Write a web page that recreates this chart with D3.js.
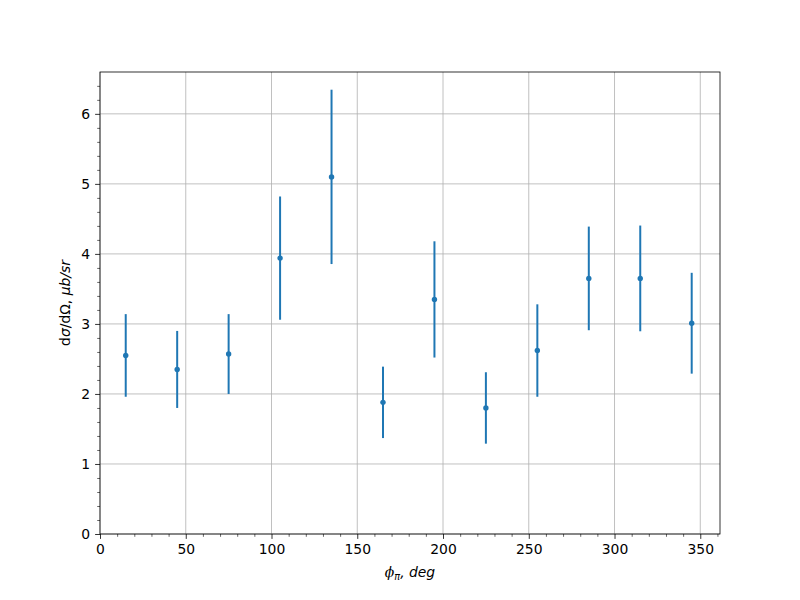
<!DOCTYPE html>
<html><head><meta charset="utf-8">
<script src="https://cdn.jsdelivr.net/npm/d3@7"></script>
<style>body{margin:0;background:#fff;} text{font-family:"DejaVu Sans",sans-serif;}</style>
</head><body>
<svg id="chart" width="800" height="600"></svg>
<script>
const phi = [15, 45, 75, 105, 135, 165, 195, 225, 255, 285, 315, 345];
const xsec = [2.55, 2.35, 2.57, 3.94, 5.10, 1.88, 3.35, 1.80, 2.62, 3.65, 3.65, 3.01];
const err = [0.59, 0.55, 0.57, 0.88, 1.245, 0.51, 0.83, 0.51, 0.66, 0.74, 0.755, 0.72];
const xTicks = [0, 50, 100, 150, 200, 250, 300, 350];
const yTicks = [0, 1, 2, 3, 4, 5, 6];

const svg = d3.select("#chart");
const m = {left: 100, right: 80, top: 72, bottom: 66};
const W = 800 - m.left - m.right, H = 600 - m.top - m.bottom;
const color = "#1f77b4";

// matplotlib-like autoscale with 5% margins, lower limits pinned at 0
const xmin = d3.min(phi), xmax = d3.max(phi);
const xHi = xmax + 0.05 * (xmax - xmin);
const lows = xsec.map((v, i) => v - err[i]), highs = xsec.map((v, i) => v + err[i]);
const ylo = d3.min(lows), yhi = d3.max(highs);
const yHi = yhi + 0.05 * (yhi - ylo);

const x = d3.scaleLinear().domain([0, xHi]).range([0, W]);
const y = d3.scaleLinear().domain([0, yHi]).range([H, 0]);

const g = svg.append("g").attr("transform", `translate(${m.left},${m.top})`);

// grid
g.append("g").selectAll("line").data(xTicks).join("line")
  .attr("x1", d => x(d)).attr("x2", d => x(d)).attr("y1", 0).attr("y2", H)
  .attr("stroke", "#b0b0b0").attr("stroke-width", 0.8);
g.append("g").selectAll("line").data(yTicks).join("line")
  .attr("y1", d => y(d)).attr("y2", d => y(d)).attr("x1", 0).attr("x2", W)
  .attr("stroke", "#b0b0b0").attr("stroke-width", 0.8);

// minor ticks
const xMinor = d3.range(0, xHi, 10).filter(v => v % 50 !== 0);
const yMinor = d3.range(0, yHi, 0.2).filter(v => Math.abs(v - Math.round(v)) > 1e-6);
const xAxisMinor = d3.axisBottom(x).tickValues(xMinor).tickSize(2.8).tickFormat("");
const yAxisMinor = d3.axisLeft(y).tickValues(yMinor).tickSize(2.8).tickFormat("");
g.append("g").attr("transform", `translate(0,${H})`).call(xAxisMinor)
  .call(a => a.select(".domain").remove())
  .selectAll("line").attr("stroke", "#000").attr("stroke-width", 0.6);
g.append("g").call(yAxisMinor)
  .call(a => a.select(".domain").remove())
  .selectAll("line").attr("stroke", "#000").attr("stroke-width", 0.6);

// major axes
const xAxis = d3.axisBottom(x).tickValues(xTicks).tickSize(4.9).tickPadding(4.9).tickFormat(d3.format("d"));
const yAxis = d3.axisLeft(y).tickValues(yTicks).tickSize(4.9).tickPadding(4.9).tickFormat(d3.format("d"));
const gx = g.append("g").attr("transform", `translate(0,${H})`).call(xAxis);
const gy = g.append("g").call(yAxis);
[gx, gy].forEach(a => {
  a.select(".domain").remove();
  a.selectAll("line").attr("stroke", "#000").attr("stroke-width", 0.8);
  a.selectAll("text").attr("font-size", "13.9px").attr("fill", "#000")
    .attr("font-family", "DejaVu Sans");
});

// frame
g.append("rect").attr("x", 0).attr("y", 0).attr("width", W).attr("height", H)
  .attr("fill", "none").attr("stroke", "#000").attr("stroke-width", 0.8);

// error bars
g.append("g").selectAll("line").data(phi).join("line")
  .attr("x1", d => x(d)).attr("x2", d => x(d))
  .attr("y1", (d, i) => y(xsec[i] - err[i])).attr("y2", (d, i) => y(xsec[i] + err[i]))
  .attr("stroke", color).attr("stroke-width", 2);
// points
g.append("g").selectAll("circle").data(phi).join("circle")
  .attr("cx", d => x(d)).attr("cy", (d, i) => y(xsec[i]))
  .attr("r", 2.7).attr("fill", color);

// axis labels
const xl = svg.append("text").attr("x", m.left + W / 2).attr("y", 577)
  .attr("text-anchor", "middle").attr("font-size", "13.9px").attr("font-family", "DejaVu Sans");
xl.append("tspan").attr("font-style", "italic").attr("font-family", "DejaVu Serif").text("ϕ");
xl.append("tspan").attr("font-style", "italic").attr("font-size", "9.7px").attr("dy", 2.5).text("π");
xl.append("tspan").attr("font-style", "italic").attr("dy", -2.5).text(", deg");

const yl = svg.append("text").attr("transform", `translate(70,${m.top + H / 2}) rotate(-90)`)
  .attr("text-anchor", "middle").attr("font-size", "13.9px").attr("font-family", "DejaVu Sans");
yl.append("tspan").text("d");
yl.append("tspan").attr("font-style", "italic").text("σ");
yl.append("tspan").text("/dΩ, ");
yl.append("tspan").attr("font-style", "italic").text("μb/sr");
</script>
</body></html>
